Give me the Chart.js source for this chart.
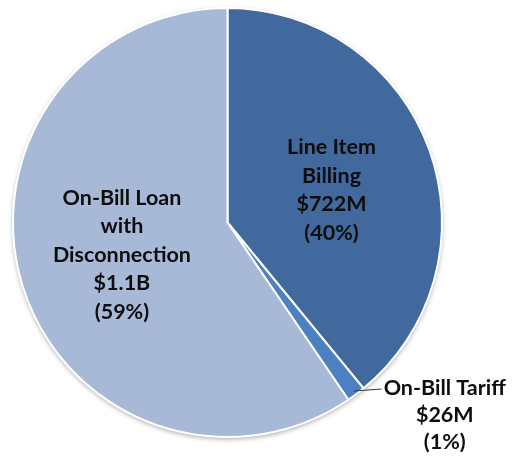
<!DOCTYPE html>
<html>
<head>
<meta charset="utf-8">
<script src="https://cdn.jsdelivr.net/npm/chart.js@4"></script>
<style>
  html, body { margin: 0; padding: 0; background: #fff; }
  #wrap { width: 513px; height: 457px; }
</style>
</head>
<body>
<div id="wrap"><canvas id="chart" width="513" height="457"></canvas></div>
<script>
// data
const categories = ['Line Item Billing', 'On-Bill Tariff', 'On-Bill Loan with Disconnection'];
const values = [722, 26, 1100];   // $M
const labelLines = [
    ['Line Item', 'Billing', '$722M', '(40%)'],
    ['On-Bill Tariff', '$26M', '(1%)'],
    ['On-Bill Loan', 'with', 'Disconnection', '$1.1B', '(59%)']
];
const colors = ['#41699e', '#4d80c0', '#a8b9d8'];

const FONT = 'bold 21.5px Lato, "Open Sans", sans-serif';
const LINE_H = 28.5;

// soft shadow under the pie
const pieShadow = {
    id: 'pieShadow',
    beforeDatasetsDraw(chart) {
        const arc = chart.getDatasetMeta(0).data[0];
        if (!arc) return;
        const c = chart.ctx;
        c.save();
        c.shadowColor = 'rgba(0,0,0,0.35)';
        c.shadowBlur = 5;
        c.shadowOffsetY = 2;
        c.beginPath();
        c.arc(arc.x, arc.y, arc.outerRadius, 0, Math.PI * 2);
        c.fillStyle = '#ffffff';
        c.fill();
        c.restore();
    }
};

// labels inside slices / outside for the thin one
const sliceLabels = {
    id: 'sliceLabels',
    afterDatasetsDraw(chart) {
        const c = chart.ctx;
        const meta = chart.getDatasetMeta(0);
        c.save();
        c.font = FONT;
        c.fillStyle = '#0d0d0d';
        c.textBaseline = 'middle';
        c.textAlign = 'center';
        meta.data.forEach((arc, i) => {
            const lines = labelLines[i];
            const mid = (arc.startAngle + arc.endAngle) / 2;
            if (i === 1) {
                // outside label with short leader
                const sx = arc.x + Math.cos(mid) * (arc.outerRadius - 4);
                const sy = arc.y + Math.sin(mid) * (arc.outerRadius - 4);
                const ex = sx + 28, ey = sy - 2;
                c.strokeStyle = '#333';
                c.lineWidth = 1;
                c.beginPath();
                c.moveTo(sx, sy);
                c.lineTo(ex, ey);
                c.stroke();
                const w = c.measureText(lines[0]).width;
                const cx = ex + 2 + w / 2;
                lines.forEach((t, k) => c.fillText(t, cx, ey + k * 27 - 1));
            } else {
                const r = arc.outerRadius * 0.515;
                const cx = arc.x + Math.cos(mid) * r;
                const cy = arc.y + Math.sin(mid) * r + (i === 0 ? 5 : 0);
                const top = cy - (lines.length - 1) * LINE_H / 2;
                lines.forEach((t, k) => c.fillText(t, cx, top + k * LINE_H));
            }
        });
        c.restore();
    }
};

new Chart(document.getElementById('chart'), {
    type: 'pie',
    data: {
        labels: categories,
        datasets: [{
            data: values,
            backgroundColor: colors,
            borderColor: '#ffffff',
            borderWidth: 2
        }]
    },
    options: {
        responsive: false,
        animation: false,
        layout: { padding: { left: 12, right: 70, top: 7, bottom: 19 } },
        plugins: {
            legend: { display: false },
            tooltip: { enabled: false }
        }
    },
    plugins: [pieShadow, sliceLabels]
});
</script>
</body>
</html>
